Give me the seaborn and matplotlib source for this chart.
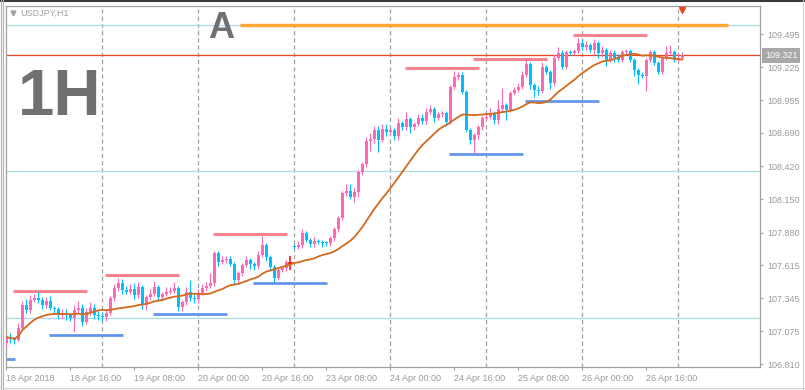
import numpy as np
import pandas as pd
import seaborn as sns
import matplotlib.pyplot as plt
from matplotlib.lines import Line2D
from matplotlib.transforms import blended_transform_factory

# USDJPY H1, one bar per hour from 18 Apr 2018 00:00 (bar 0) to 27 Apr 01:00
opens = [
    106.981, 107.030, 107.013, 107.005, 107.103, 107.290, 107.249, 107.331, 107.347, 107.328,
    107.290, 107.323, 107.266, 107.258, 107.209, 107.225, 107.205, 107.184, 107.249, 107.266,
    107.152, 107.233, 107.266, 107.209, 107.200, 107.192, 107.225, 107.347, 107.428, 107.469,
    107.412, 107.396, 107.420, 107.371, 107.437, 107.290, 107.355, 107.380, 107.437, 107.355,
    107.380, 107.396, 107.405, 107.428, 107.274, 107.314, 107.396, 107.347, 107.339, 107.388,
    107.428, 107.445, 107.469, 107.713, 107.640, 107.655, 107.668, 107.624, 107.493, 107.550,
    107.616, 107.656, 107.624, 107.607, 107.697, 107.778, 107.681, 107.599, 107.510, 107.575,
    107.591, 107.632, 107.770, 107.762, 107.778, 107.876, 107.819, 107.786, 107.811, 107.803,
    107.795, 107.792, 107.835, 107.908, 107.998, 108.201, 108.218, 108.169, 108.210, 108.372,
    108.437, 108.625, 108.641, 108.714, 108.633, 108.722, 108.698, 108.714, 108.665, 108.771,
    108.738, 108.804, 108.738, 108.763, 108.812, 108.787, 108.861, 108.885, 108.812, 108.844,
    108.852, 108.779, 109.064, 109.145, 109.162, 109.023, 108.714, 108.633, 108.673, 108.738,
    108.812, 108.820, 108.852, 108.795, 108.885, 108.917, 108.877, 109.015, 109.040, 109.064,
    109.162, 109.251, 109.080, 109.040, 109.032, 109.227, 109.186, 109.096, 109.300, 109.341,
    109.227, 109.349, 109.341, 109.357, 109.422, 109.389, 109.406, 109.365, 109.422, 109.341,
    109.365, 109.284, 109.341, 109.300, 109.284, 109.349, 109.357, 109.284, 109.202, 109.162,
    109.155, 109.284, 109.349, 109.259, 109.186, 109.300, 109.341, 109.349, 109.284, 109.300,
]
closes = [
    107.030, 107.013, 107.005, 107.103, 107.290, 107.249, 107.331, 107.347, 107.328, 107.290,
    107.323, 107.266, 107.258, 107.209, 107.225, 107.205, 107.184, 107.249, 107.266, 107.152,
    107.233, 107.266, 107.209, 107.200, 107.192, 107.225, 107.347, 107.428, 107.469, 107.412,
    107.396, 107.420, 107.371, 107.437, 107.290, 107.355, 107.380, 107.437, 107.355, 107.380,
    107.396, 107.405, 107.428, 107.274, 107.314, 107.396, 107.347, 107.339, 107.388, 107.428,
    107.445, 107.469, 107.713, 107.640, 107.655, 107.668, 107.624, 107.493, 107.550, 107.616,
    107.656, 107.624, 107.607, 107.697, 107.778, 107.681, 107.599, 107.510, 107.575, 107.591,
    107.640, 107.632, 107.762, 107.778, 107.876, 107.819, 107.786, 107.811, 107.803, 107.795,
    107.792, 107.835, 107.908, 107.998, 108.201, 108.218, 108.169, 108.210, 108.372, 108.437,
    108.625, 108.641, 108.714, 108.633, 108.722, 108.698, 108.714, 108.665, 108.771, 108.738,
    108.804, 108.738, 108.763, 108.812, 108.787, 108.861, 108.885, 108.812, 108.844, 108.852,
    108.779, 109.064, 109.145, 109.162, 109.023, 108.714, 108.633, 108.673, 108.738, 108.812,
    108.820, 108.852, 108.795, 108.885, 108.917, 108.877, 109.015, 109.040, 109.064, 109.162,
    109.251, 109.080, 109.040, 109.032, 109.227, 109.186, 109.096, 109.300, 109.341, 109.227,
    109.349, 109.341, 109.357, 109.422, 109.389, 109.406, 109.365, 109.422, 109.341, 109.365,
    109.284, 109.341, 109.300, 109.284, 109.349, 109.357, 109.284, 109.202, 109.162, 109.155,
    109.284, 109.349, 109.259, 109.186, 109.300, 109.341, 109.349, 109.284, 109.300, 109.321,
]
# wick lengths beyond the body, in pips
wick_up_pips = [
    2, 3, 2, 4, 3, 5, 4, 3, 5, 3,  3, 4, 2, 2, 3, 3, 2, 4, 6, 3,
    3, 5, 3, 3, 3, 3, 2, 3, 4, 3,  3, 4, 5, 4, 2, 2, 4, 5, 2, 2,
    4, 3, 5, 2, 2, 4, 10, 3, 3, 3,  3, 8, 2, 2, 3, 2, 2, 2, 2, 2,
    3, 2, 2, 3, 7, 2, 2, 2, 2, 2,  2, 6, 2, 3, 3, 2, 2, 3, 2, 2,
    2, 2, 2, 2, 2, 6, 6, 3, 2, 2,  3, 5, 3, 3, 4, 4, 2, 2, 4, 2,
    6, 2, 2, 3, 3, 3, 3, 2, 2, 2,  2, 2, 5, 2, 2, 2, 2, 2, 2, 2,
    3, 4, 2, 7, 14, 2, 2, 2, 3, 3,  4, 2, 2, 3, 4, 2, 2, 3, 5, 2,
    2, 2, 2, 4, 3, 3, 2, 3, 2, 3,  2, 2, 2, 3, 2, 2, 2, 2, 2, 2,
    2, 2, 2, 2, 2, 6, 6, 2, 3, 3,
]
wick_dn_pips = [
    3, 3, 3, 1, 2, 2, 2, 2, 2, 3,  2, 2, 3, 3, 3, 4, 2, 11, 2, 3,
    2, 2, 3, 3, 3, 3, 2, 2, 2, 3,  2, 2, 3, 2, 3, 4, 2, 2, 3, 2,
    2, 2, 2, 3, 3, 2, 2, 3, 3, 2,  2, 2, 2, 3, 2, 2, 2, 3, 2, 2,
    2, 4, 3, 2, 2, 3, 3, 3, 2, 2,  2, 6, 2, 2, 2, 2, 2, 2, 2, 3,
    2, 2, 2, 2, 2, 2, 2, 4, 4, 2,  2, 8, 3, 10, 2, 3, 2, 3, 3, 2,
    2, 5, 2, 2, 2, 2, 2, 3, 2, 2,  3, 2, 2, 2, 2, 2, 3, 11, 3, 2,
    2, 2, 3, 3, 2, 8, 2, 2, 2, 2,  2, 3, 6, 3, 2, 2, 5, 2, 2, 2,
    2, 2, 2, 2, 2, 2, 2, 3, 4, 3,  5, 2, 3, 2, 2, 2, 2, 5, 7, 2,
    12, 2, 2, 2, 2, 2, 2, 2, 2, 2,
]

# session high / low segments (price, first bar, last bar)
res_levels = [107.408, 107.538, 107.872, 109.221, 109.288, 109.487]
res_start = [1.6, 24.6, 51.6, 99.6, 116.6, 141.6]
res_end = [20.1, 43.1, 70.1, 118.1, 135.1, 160.1]
sup_levels = [106.848, 107.048, 107.219, 107.472, 108.521, 108.952]
sup_start = [-0.2, 10.6, 36.6, 61.6, 110.6, 129.6]
sup_end = [2.1, 29.1, 55.1, 80.1, 129.1, 148.1]

line_a_level = 109.568
line_a_start, line_a_end = 58.4, 180.4
cyan_levels = [109.568, 108.378, 107.182]

price_ticks = [106.810, 107.075, 107.345, 107.615, 107.880, 108.150,
               108.420, 108.690, 108.955, 109.225, 109.495]
time_ticks = [0, 16, 32, 48, 64, 80, 96, 112, 128, 144, 160]
time_labels = ["18 Apr 2018", "18 Apr 16:00", "19 Apr 08:00", "20 Apr 00:00",
               "20 Apr 16:00", "23 Apr 08:00", "24 Apr 00:00", "24 Apr 16:00",
               "25 Apr 08:00", "26 Apr 00:00", "26 Apr 16:00"]
day_starts = [24, 48, 72, 96, 120, 144, 168]

df = pd.DataFrame({"open": opens, "close": closes})
df["bar"] = np.arange(len(df))
body_top = df[["open", "close"]].max(axis=1)
body_bot = df[["open", "close"]].min(axis=1)
df["high"] = body_top + np.array(wick_up_pips) * 0.01
df["low"] = body_bot - np.array(wick_dn_pips) * 0.01
df["ma"] = df["close"].rolling(21, min_periods=1).mean()

sns.set_theme(style="white")
plt.rcParams["font.family"] = ["Liberation Sans", "DejaVu Sans"]
plt.rcParams["lines.scale_dashes"] = False

BULL = "#ff69b4"
BEAR = "#00bfff"
GREY = "#a0a0a0"

fig = plt.figure(figsize=(8.05, 3.9), dpi=100)
fig.patch.set_facecolor("white")
ax = fig.add_axes([5.5 / 805, 23 / 390, 754.5 / 805, 361 / 390])
ax.set_facecolor("white")

# daily separators
for d in day_starts:
    ax.axvline(d, color=GREY, lw=0.9, dashes=(3, 2.2), zorder=1)

for lv in cyan_levels:
    ax.axhline(lv, color="#a9dde0", lw=0.9, zorder=1)

ax.hlines(line_a_level, line_a_start, line_a_end, color="#ffa534", lw=2.4, zorder=2)
ax.axhline(closes[-1], color="#e8461e", lw=0.9, zorder=2)

ax.hlines(res_levels, res_start, res_end, color="#f4848f", lw=2.2, zorder=2)
ax.hlines(sup_levels, sup_start, sup_end, color="#6495ed", lw=2.0, zorder=2)

# candles
for r in df.itertuples():
    if r.close == r.open:
        ax.vlines(r.bar, r.low, r.high, color="red", lw=1.1, zorder=4)
        ax.hlines(r.close, r.bar - 0.6, r.bar + 0.6, color="red", lw=1.1, zorder=4)
        continue
    col = BULL if r.close > r.open else BEAR
    ax.vlines(r.bar, r.low, r.high, color=col, lw=0.8, zorder=3)
    lo = min(r.open, r.close)
    ax.bar(r.bar, max(abs(r.close - r.open), 0.008), bottom=lo, width=0.78,
           color=col, linewidth=0, zorder=3)

sns.lineplot(data=df, x="bar", y="ma", color="#d2691e", lw=1.3, ax=ax, zorder=5)

ax.set_xlim(-0.25, 188.4)
ax.set_ylim(106.786, 109.723)
ax.set_xlabel("")
ax.set_ylabel("")

ax.set_xticks(time_ticks)
ax.set_xticklabels(time_labels, ha="left")
ax.yaxis.tick_right()
ax.set_yticks(price_ticks)
ax.set_yticklabels([f"{p:.3f}" for p in price_ticks])
ax.tick_params(axis="both", colors=GREY, labelcolor="#9a9a9a", labelsize=6.5,
               length=2.5, width=0.8, pad=2.5, direction="out")
ax.tick_params(axis="x", bottom=True)
ax.tick_params(axis="y", right=True, left=False)
for s in ax.spines.values():
    s.set_color(GREY)
    s.set_linewidth(0.9)

# current price tag
tr = blended_transform_factory(ax.transAxes, ax.transData)
ax.text(1 + 5 / 754.5, closes[-1], f"{closes[-1]:.3f}", transform=tr,
        ha="left", va="center", color="white", fontsize=6.5,
        bbox=dict(boxstyle="square,pad=0.3", fc="#a8a8a8", ec="none"), zorder=6)

# marker at the top of the last bar
trx = blended_transform_factory(ax.transData, ax.transAxes)
ax.plot([len(df) - 1], [0.99], marker="v", color="#e8461e", markersize=5,
        transform=trx, clip_on=False, zorder=6)

# symbol header
ax.plot([(12.5 - 5.5) / 754.5], [(367 - 13) / 361], marker="v", color=GREY,
        markersize=3.5, transform=ax.transAxes, clip_on=False)
fig.text(20 / 805, 1 - 13 / 390, "USDJPY,H1", color=GREY, fontsize=6.5,
         ha="left", va="center")

fig.text(18 / 805, 1 - 115 / 390, "1H", color="#707070", fontsize=47,
         fontweight="bold", ha="left", va="baseline")
fig.text(208 / 805, 1 - 38 / 390, "A", color="#707070", fontsize=26,
         fontweight="bold", ha="left", va="baseline")

# window frame
fig.add_artist(Line2D([0, 1], [1 - 0.5 / 390, 1 - 0.5 / 390], color="#3a3a3a", lw=1.5))
fig.add_artist(Line2D([0.5 / 805, 0.5 / 805], [0, 1], color="#b0b0b0", lw=0.8))
fig.add_artist(Line2D([2.5 / 805, 2.5 / 805], [0, 1], color="#b0b0b0", lw=0.8))
fig.add_artist(Line2D([802.5 / 805, 802.5 / 805], [0, 1], color="#d0d0d0", lw=0.8))
fig.add_artist(Line2D([0, 1], [2.5 / 390, 2.5 / 390], color="#d0d0d0", lw=0.8))

fig.savefig("out.png", dpi=100)
